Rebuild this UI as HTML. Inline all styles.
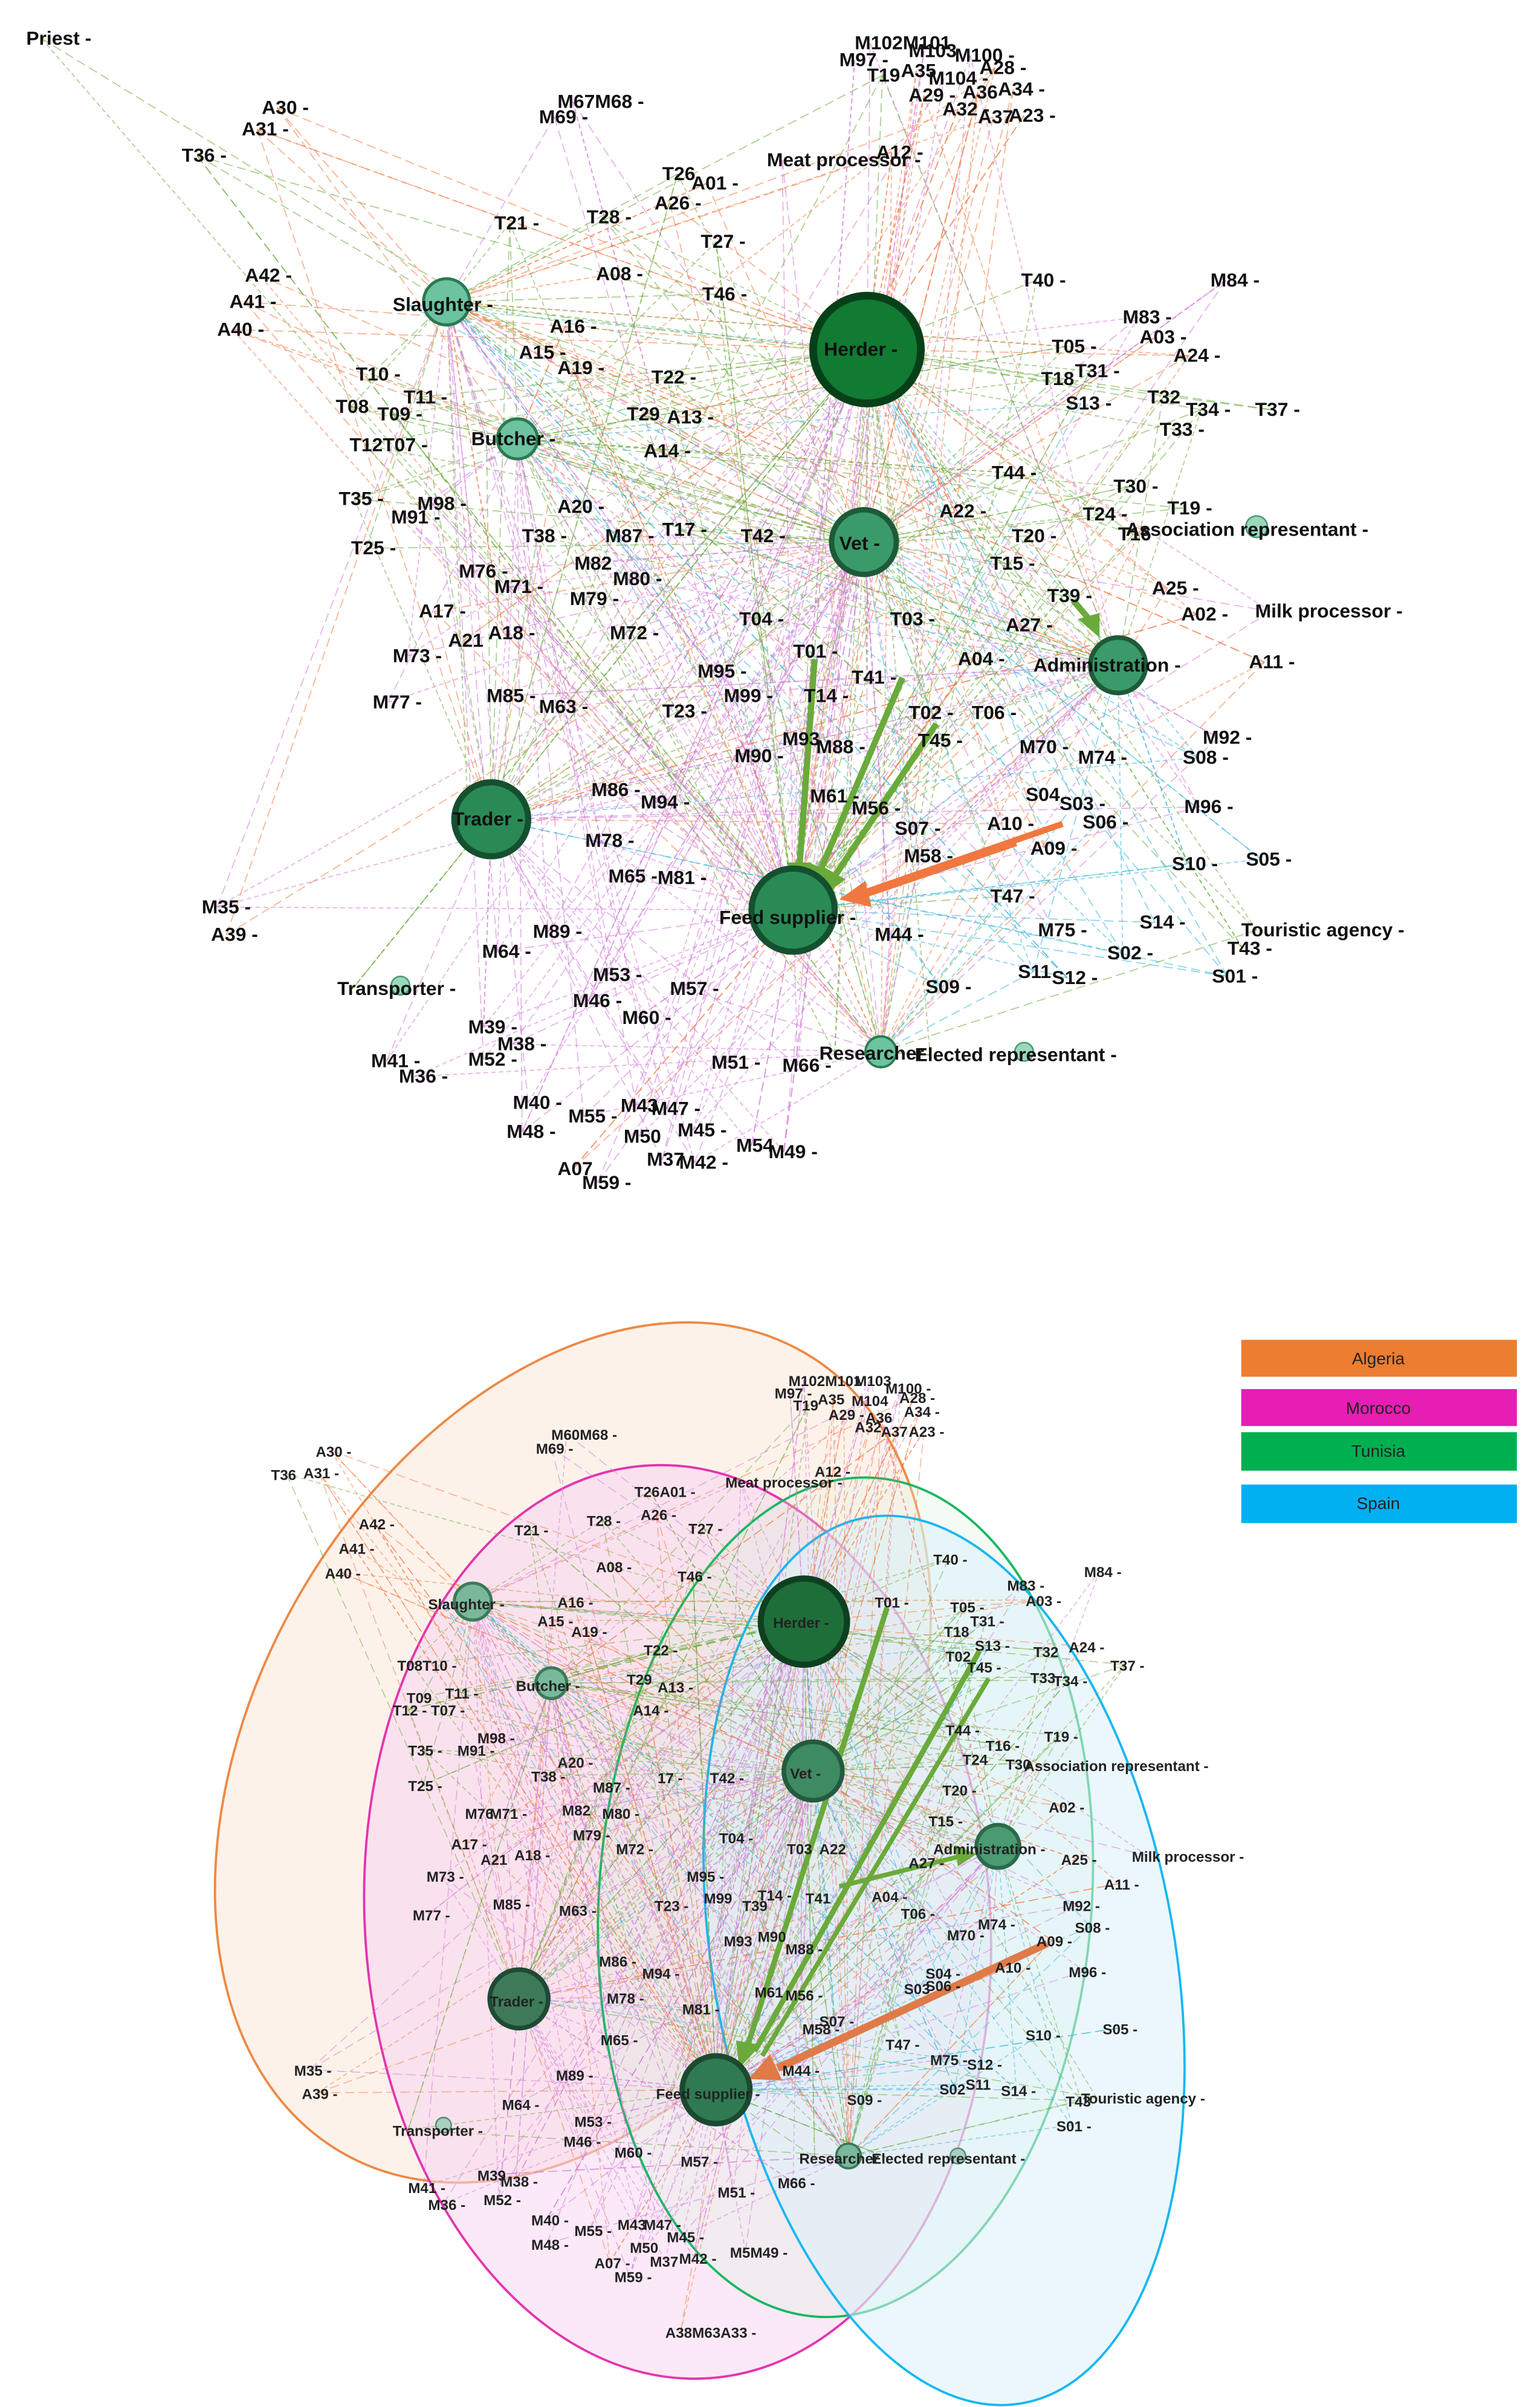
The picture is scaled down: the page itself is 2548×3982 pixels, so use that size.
<!DOCTYPE html>
<html><head><meta charset="utf-8">
<style>
html,body{margin:0;padding:0;background:#fff;}
svg{display:block;}
text{font-family:"Liberation Sans",Arial,sans-serif;font-weight:bold;fill:#111;}
.t text{font-size:12.5px;}
.b text{font-size:9.5px;fill:#222;}
.lg text{font-size:11px;font-weight:normal;fill:#222;}
</style></head>
<body>
<svg id="s" xmlns="http://www.w3.org/2000/svg" width="2548" height="3982" viewBox="0 0 1000 1563" preserveAspectRatio="none">
<rect width="1000" height="1563" fill="#fff"/>
<!-- bottom ellipses -->
<g opacity="0.9">
<ellipse cx="372" cy="1138" rx="205" ry="300" transform="rotate(30 372 1138)" fill="#fbe6d8" fill-opacity="0.6" stroke="#ed7d31" stroke-width="1.5"/>
<ellipse cx="440" cy="1248" rx="203" ry="297" transform="rotate(-4 440 1248)" fill="#f6d2ee" fill-opacity="0.55" stroke="#e020a8" stroke-width="1.5"/>
<ellipse cx="549" cy="1232" rx="160" ry="273" transform="rotate(4 549 1232)" fill="#d8f0dc" fill-opacity="0.3" stroke="#00b050" stroke-width="1.5"/>
<ellipse cx="613" cy="1273" rx="150" ry="292" transform="rotate(-10 613 1273)" fill="#d6eef8" fill-opacity="0.55" stroke="#00b0f0" stroke-width="1.5"/>
</g>
<g id="edges"></g>
<g id="arrows">
<line x1="529" y1="428" x2="519" y2="565" stroke="#6aaa3a" stroke-width="4"/>
<polygon points="511,560 527,560 519,580" fill="#6aaa3a"/>
<line x1="586" y1="440" x2="532" y2="567" stroke="#6aaa3a" stroke-width="4"/>
<polygon points="525,560 540,566 527,580" fill="#6aaa3a"/>
<line x1="608" y1="470" x2="542" y2="569" stroke="#6aaa3a" stroke-width="4"/>
<polygon points="535,563 549,571 533,583" fill="#6aaa3a"/>
<line x1="697" y1="390" x2="708" y2="403" stroke="#6aaa3a" stroke-width="4"/>
<polygon points="700,402 714,398 714,414" fill="#6aaa3a"/>
<line x1="690" y1="535" x2="560" y2="580" stroke="#f07840" stroke-width="4"/>
<line x1="660" y1="548" x2="560" y2="582" stroke="#f07840" stroke-width="3"/>
<polygon points="562,572 566,589 545,584" fill="#f07840"/>
<!-- bottom arrows -->
<line x1="576" y1="1044" x2="485" y2="1330" stroke="#6aaa3a" stroke-width="3.5"/>
<line x1="636" y1="1072" x2="490" y2="1332" stroke="#6aaa3a" stroke-width="3.5"/>
<line x1="642" y1="1090" x2="495" y2="1335" stroke="#6aaa3a" stroke-width="3"/>
<polygon points="478,1325 494,1328 480,1343" fill="#6aaa3a"/>
<line x1="545" y1="1225" x2="625" y2="1205" stroke="#6aaa3a" stroke-width="3"/>
<polygon points="620,1198 634,1204 622,1212" fill="#6aaa3a"/>
<line x1="680" y1="1262" x2="505" y2="1343" stroke="#e07a48" stroke-width="5"/>
<polygon points="500,1334 508,1351 486,1350" fill="#e07a48"/>
</g>
<g id="nodes">
<circle cx="563" cy="227" r="35" fill="#117a33" stroke="#064018" stroke-width="5"/>
<circle cx="561" cy="352" r="21" fill="#3a9a6a" stroke="#1d5a38" stroke-width="3.5"/>
<circle cx="515" cy="591" r="27" fill="#2a8a55" stroke="#145030" stroke-width="4"/>
<circle cx="319" cy="532" r="24" fill="#2a8a55" stroke="#145030" stroke-width="4"/>
<circle cx="726" cy="432" r="18" fill="#3a9a6a" stroke="#1d5a38" stroke-width="3"/>
<circle cx="290" cy="196" r="15" fill="#6cc3a0" stroke="#2a7a52" stroke-width="2"/>
<circle cx="336" cy="285" r="13" fill="#6cc3a0" stroke="#2a7a52" stroke-width="2"/>
<circle cx="816" cy="342" r="7" fill="#9ad8bc" stroke="#4a9a72" stroke-width="1"/>
<circle cx="260" cy="640" r="6" fill="#9ad8bc" stroke="#4a9a72" stroke-width="1"/>
<circle cx="572" cy="683" r="10" fill="#6cc3a0" stroke="#2a7a52" stroke-width="1.5"/>
<circle cx="665" cy="683" r="6" fill="#9ad8bc" stroke="#4a9a72" stroke-width="1"/>
<!-- bottom -->
<circle cx="522" cy="1053" r="28" fill="#1e6e3a" stroke="#0e4020" stroke-width="4"/>
<circle cx="528" cy="1150" r="19" fill="#3e8a62" stroke="#245a3e" stroke-width="3"/>
<circle cx="465" cy="1357" r="22" fill="#2f7a52" stroke="#1a4a30" stroke-width="3.5"/>
<circle cx="337" cy="1298" r="19" fill="#3e7a5a" stroke="#1e4a34" stroke-width="3"/>
<circle cx="648" cy="1199" r="14" fill="#4a9a72" stroke="#2a6a4a" stroke-width="2.5"/>
<circle cx="307" cy="1040" r="12" fill="#7ab89a" stroke="#3a7a5a" stroke-width="2"/>
<circle cx="358" cy="1093" r="10" fill="#7ab89a" stroke="#3a7a5a" stroke-width="2"/>
<circle cx="551" cy="1400" r="8" fill="#7ab89a" stroke="#3a7a5a" stroke-width="1.5"/>
<circle cx="622" cy="1400" r="5" fill="#a8cfc0" stroke="#5a8a7a" stroke-width="1"/>
<circle cx="288" cy="1380" r="5" fill="#a8cfc0" stroke="#5a8a7a" stroke-width="1"/>
</g>
<g class="t" id="tl">
<text x="17" y="29">Priest -</text><text x="170" y="74">A30 -</text><text x="157" y="88">A31 -</text><text x="118" y="105">T36 -</text>
<text x="362" y="70">M67M68 -</text><text x="350" y="80">M69 -</text>
<text x="555" y="32">M102M101</text><text x="545" y="43">M97 -</text><text x="590" y="37">M103</text><text x="620" y="40">M100 -</text>
<text x="563" y="53">T19</text><text x="585" y="50">A35</text><text x="636" y="48">A28 -</text><text x="603" y="55">M104 -</text>
<text x="648" y="62">A34 -</text><text x="590" y="66">A29 -</text><text x="625" y="64">A36</text><text x="612" y="75">A32 -</text>
<text x="635" y="80">A37</text><text x="655" y="79">A23 -</text><text x="569" y="103">A12 -</text><text x="498" y="108">Meat processor -</text>
<text x="430" y="117">T26</text><text x="449" y="123">A01 -</text><text x="425" y="136">A26 -</text><text x="321" y="149">T21 -</text>
<text x="381" y="145">T28 -</text><text x="455" y="161">T27 -</text><text x="159" y="183">A42 -</text><text x="149" y="200">A41 -</text>
<text x="141" y="218">A40 -</text><text x="255" y="202">Slaughter -</text><text x="387" y="182">A08 -</text><text x="456" y="195">T46 -</text>
<text x="663" y="186">T40 -</text><text x="786" y="186">M84 -</text><text x="729" y="210">M83 -</text><text x="740" y="223">A03 -</text>
<text x="357" y="216">A16 -</text><text x="337" y="233">A15 -</text><text x="362" y="243">A19 -</text><text x="231" y="247">T10 -</text>
<text x="423" y="249">T22 -</text><text x="683" y="229">T05 -</text><text x="676" y="250">T18</text><text x="698" y="245">T31 -</text>
<text x="762" y="235">A24 -</text><text x="692" y="266">S13 -</text><text x="745" y="262">T32</text><text x="770" y="270">T34 -</text>
<text x="815" y="270">T37 -</text><text x="753" y="283">T33 -</text><text x="262" y="262">T11 -</text><text x="218" y="268">T08</text>
<text x="245" y="273">T09 -</text><text x="407" y="273">T29</text><text x="433" y="275">A13 -</text><text x="535" y="231">Herder -</text>
<text x="306" y="289">Butcher -</text><text x="227" y="293">T12T07 -</text><text x="418" y="297">A14 -</text><text x="644" y="311">T44 -</text>
<text x="220" y="328">T35 -</text><text x="271" y="331">M98 -</text><text x="254" y="340">M91 -</text><text x="362" y="333">A20 -</text>
<text x="723" y="320">T30 -</text><text x="228" y="360">T25 -</text><text x="339" y="352">T38 -</text><text x="393" y="352">M87 -</text>
<text x="430" y="348">T17 -</text><text x="481" y="352">T42 -</text><text x="545" y="357">Vet -</text><text x="610" y="336">A22 -</text>
<text x="703" y="338">T24 -</text><text x="758" y="334">T19 -</text><text x="726" y="351">T16</text><text x="731" y="348">Association representant -</text>
<text x="657" y="352">T20 -</text><text x="643" y="370">T15 -</text><text x="298" y="375">M76 -</text><text x="373" y="370">M82</text>
<text x="321" y="385">M71 -</text><text x="398" y="380">M80 -</text><text x="370" y="393">M79 -</text><text x="272" y="401">A17 -</text>
<text x="317" y="415">A18 -</text><text x="291" y="420">A21</text><text x="396" y="415">M72 -</text><text x="480" y="406">T04 -</text>
<text x="578" y="406">T03 -</text><text x="680" y="391">T39 -</text><text x="748" y="386">A25 -</text><text x="767" y="403">A02 -</text>
<text x="815" y="401">Milk processor -</text><text x="653" y="410">A27 -</text><text x="255" y="430">M73 -</text><text x="515" y="427">T01 -</text>
<text x="453" y="440">M95 -</text><text x="553" y="444">T41 -</text><text x="622" y="432">A04 -</text><text x="671" y="436">Administration -</text>
<text x="811" y="434">A11 -</text><text x="242" y="460">M77 -</text><text x="316" y="456">M85 -</text><text x="350" y="463">M63 -</text>
<text x="470" y="456">M99 -</text><text x="522" y="456">T14 -</text><text x="430" y="466">T23 -</text><text x="590" y="467">T02 -</text>
<text x="631" y="467">T06 -</text><text x="508" y="484">M93</text><text x="530" y="489">M88 -</text><text x="596" y="485">T45 -</text>
<text x="662" y="489">M70 -</text><text x="700" y="496">M74 -</text><text x="781" y="483">M92 -</text><text x="768" y="496">S08 -</text>
<text x="477" y="495">M90 -</text><text x="384" y="517">M86 -</text><text x="416" y="525">M94 -</text><text x="526" y="521">M61 -</text>
<text x="553" y="529">M56 -</text><text x="666" y="520">S04</text><text x="688" y="526">S03 -</text><text x="769" y="528">M96 -</text>
<text x="581" y="542">S07 -</text><text x="703" y="538">S06 -</text><text x="641" y="539">A10 -</text><text x="669" y="555">A09 -</text>
<text x="294" y="536">Trader -</text><text x="380" y="550">M78 -</text><text x="587" y="560">M58 -</text><text x="761" y="565">S10 -</text>
<text x="809" y="562">S05 -</text><text x="395" y="573">M65 -</text><text x="427" y="574">M81 -</text><text x="643" y="586">T47 -</text>
<text x="131" y="593">M35 -</text><text x="137" y="611">A39 -</text><text x="467" y="600">Feed supplier -</text><text x="568" y="611">M44 -</text>
<text x="674" y="608">M75 -</text><text x="740" y="603">S14 -</text><text x="806" y="608">Touristic agency -</text><text x="797" y="620">T43 -</text>
<text x="346" y="609">M89 -</text><text x="313" y="622">M64 -</text><text x="719" y="623">S02 -</text><text x="661" y="635">S11</text>
<text x="683" y="639">S12 -</text><text x="787" y="638">S01 -</text><text x="219" y="646">Transporter -</text><text x="385" y="637">M53 -</text>
<text x="435" y="646">M57 -</text><text x="601" y="645">S09 -</text><text x="372" y="654">M46 -</text><text x="404" y="665">M60 -</text>
<text x="304" y="671">M39 -</text><text x="323" y="682">M38 -</text><text x="304" y="692">M52 -</text><text x="241" y="693">M41 -</text>
<text x="259" y="703">M36 -</text><text x="462" y="694">M51 -</text><text x="508" y="696">M66 -</text><text x="532" y="688">Researcher</text>
<text x="594" y="689">Elected representant -</text><text x="333" y="720">M40 -</text><text x="369" y="729">M55 -</text><text x="403" y="722">M43</text>
<text x="423" y="724">M47 -</text><text x="329" y="739">M48 -</text><text x="405" y="742">M50</text><text x="440" y="738">M45 -</text>
<text x="478" y="748">M54</text><text x="499" y="752">M49 -</text><text x="420" y="757">M37</text><text x="441" y="759">M42 -</text>
<text x="362" y="763">A07</text><text x="378" y="772">M59 -</text>
</g>
<g class="b" id="bl">
<text x="512" y="900">M102M101</text><text x="555" y="900">M103</text><text x="503" y="908">M97 -</text><text x="575" y="905">M100 -</text>
<text x="515" y="916">T19</text><text x="531" y="912">A35</text><text x="553" y="913">M104</text><text x="584" y="911">A28 -</text>
<text x="587" y="920">A34 -</text><text x="538" y="922">A29 -</text><text x="562" y="924">A36</text><text x="555" y="930">A32</text>
<text x="572" y="933">A37</text><text x="590" y="933">A23 -</text><text x="205" y="946">A30 -</text><text x="197" y="960">A31 -</text>
<text x="176" y="961">T36</text><text x="348" y="944">M69 -</text><text x="358" y="935">M60M68 -</text><text x="529" y="959">A12 -</text>
<text x="471" y="966">Meat processor -</text><text x="412" y="972">T26A01 -</text><text x="416" y="987">A26 -</text><text x="447" y="996">T27 -</text>
<text x="334" y="997">T21 -</text><text x="381" y="991">T28 -</text><text x="233" y="993">A42 -</text><text x="220" y="1009">A41 -</text>
<text x="211" y="1025">A40 -</text><text x="387" y="1021">A08 -</text><text x="440" y="1027">T46 -</text><text x="606" y="1016">T40 -</text>
<text x="704" y="1024">M84 -</text><text x="654" y="1033">M83 -</text><text x="666" y="1043">A03 -</text><text x="278" y="1045">Slaughter -</text>
<text x="362" y="1044">A16 -</text><text x="568" y="1044">T01 -</text><text x="617" y="1047">T05 -</text><text x="349" y="1056">A15 -</text>
<text x="371" y="1063">A19 -</text><text x="502" y="1057">Herder -</text><text x="630" y="1056">T31 -</text><text x="613" y="1063">T18</text>
<text x="633" y="1072">S13 -</text><text x="671" y="1076">T32</text><text x="694" y="1073">A24 -</text><text x="721" y="1085">T37 -</text>
<text x="614" y="1079">T02</text><text x="628" y="1086">T45 -</text><text x="669" y="1093">T33</text><text x="684" y="1095">T34 -</text>
<text x="258" y="1085">T08T10 -</text><text x="418" y="1075">T22 -</text><text x="407" y="1094">T29</text><text x="427" y="1099">A13 -</text>
<text x="335" y="1098">Butcher -</text><text x="264" y="1106">T09</text><text x="289" y="1103">T11 -</text><text x="255" y="1114">T12 - T07 -</text>
<text x="411" y="1114">A14 -</text><text x="614" y="1127">T44 -</text><text x="678" y="1131">T19 -</text><text x="265" y="1140">T35 -</text>
<text x="310" y="1132">M98 -</text><text x="297" y="1140">M91 -</text><text x="362" y="1148">A20 -</text><text x="640" y="1137">T16 -</text>
<text x="625" y="1146">T24</text><text x="653" y="1149">T30</text><text x="665" y="1150">Association representant -</text><text x="345" y="1157">T38 -</text>
<text x="385" y="1164">M87 -</text><text x="427" y="1158">17 -</text><text x="461" y="1158">T42 -</text><text x="513" y="1155">Vet -</text>
<text x="612" y="1166">T20 -</text><text x="681" y="1177">A02 -</text><text x="265" y="1163">T25 -</text><text x="302" y="1181">M76</text>
<text x="318" y="1181">M71 -</text><text x="365" y="1179">M82</text><text x="391" y="1181">M80 -</text><text x="372" y="1195">M79 -</text>
<text x="400" y="1204">M72 -</text><text x="467" y="1197">T04 -</text><text x="603" y="1186">T15 -</text><text x="293" y="1201">A17 -</text>
<text x="312" y="1211">A21</text><text x="334" y="1208">A18 -</text><text x="511" y="1204">T03</text><text x="532" y="1204">A22</text>
<text x="606" y="1204">Administration -</text><text x="689" y="1211">A25 -</text><text x="735" y="1209">Milk processor -</text><text x="590" y="1213">A27 -</text>
<text x="277" y="1222">M73 -</text><text x="446" y="1222">M95 -</text><text x="717" y="1227">A11 -</text><text x="492" y="1234">T14 -</text>
<text x="523" y="1236">T41</text><text x="457" y="1236">M99</text><text x="482" y="1241">T39</text><text x="566" y="1235">A04 -</text>
<text x="268" y="1247">M77 -</text><text x="320" y="1240">M85 -</text><text x="363" y="1244">M63 -</text><text x="425" y="1241">T23 -</text>
<text x="585" y="1246">T06 -</text><text x="615" y="1260">M70 -</text><text x="635" y="1253">M74 -</text><text x="690" y="1241">M92 -</text>
<text x="698" y="1255">S08 -</text><text x="470" y="1264">M93</text><text x="492" y="1261">M90</text><text x="510" y="1269">M88 -</text>
<text x="673" y="1264">A09 -</text><text x="389" y="1277">M86 -</text><text x="417" y="1285">M94 -</text><text x="646" y="1281">A10 -</text>
<text x="694" y="1284">M96 -</text><text x="601" y="1285">S04 -</text><text x="587" y="1295">S03</text><text x="601" y="1293">S06 -</text>
<text x="318" y="1303">Trader -</text><text x="394" y="1301">M78 -</text><text x="490" y="1297">M61</text><text x="510" y="1299">M56 -</text>
<text x="443" y="1308">M81 -</text><text x="532" y="1316">S07 -</text><text x="521" y="1321">M58 -</text><text x="666" y="1325">S10 -</text>
<text x="716" y="1321">S05 -</text><text x="390" y="1328">M65 -</text><text x="508" y="1348">M44 -</text><text x="575" y="1331">T47 -</text>
<text x="604" y="1341">M75 -</text><text x="628" y="1344">S12 -</text><text x="361" y="1351">M89 -</text><text x="191" y="1348">M35 -</text>
<text x="196" y="1363">A39 -</text><text x="426" y="1363">Feed supplier -</text><text x="610" y="1360">S02</text><text x="627" y="1357">S11</text>
<text x="650" y="1361">S14 -</text><text x="692" y="1368">T43</text><text x="702" y="1366">Touristic agency -</text><text x="550" y="1367">S09 -</text>
<text x="326" y="1370">M64 -</text><text x="686" y="1384">S01 -</text><text x="255" y="1387">Transporter -</text><text x="373" y="1381">M53 -</text>
<text x="366" y="1394">M46 -</text><text x="399" y="1401">M60 -</text><text x="442" y="1407">M57 -</text><text x="519" y="1405">Researcher</text>
<text x="566" y="1405">Elected representant -</text><text x="310" y="1416">M39</text><text x="325" y="1420">M38 -</text><text x="314" y="1432">M52 -</text>
<text x="265" y="1424">M41 -</text><text x="278" y="1435">M36 -</text><text x="466" y="1427">M51 -</text><text x="505" y="1421">M66 -</text>
<text x="345" y="1445">M40 -</text><text x="373" y="1452">M55 -</text><text x="401" y="1448">M43</text><text x="418" y="1448">M47 -</text>
<text x="345" y="1461">M48 -</text><text x="409" y="1463">M50</text><text x="433" y="1456">M45 -</text><text x="474" y="1466">M5M49 -</text>
<text x="422" y="1472">M37</text><text x="441" y="1470">M42 -</text><text x="386" y="1473">A07 -</text><text x="399" y="1482">M59 -</text>
<text x="432" y="1518">A38M63A33 -</text>
</g>
<g class="lg">
<rect x="806" y="870" width="179" height="24" fill="#ed7d31"/><text x="895" y="886" text-anchor="middle">Algeria</text>
<rect x="806" y="902" width="179" height="24" fill="#e61eb4"/><text x="895" y="918" text-anchor="middle">Morocco</text>
<rect x="806" y="930" width="179" height="25" fill="#00b050"/><text x="895" y="946" text-anchor="middle">Tunisia</text>
<rect x="806" y="964" width="179" height="25" fill="#00b0f0"/><text x="895" y="980" text-anchor="middle">Spain</text>
</g>
</svg>
<script>
(function(){
var NS="http://www.w3.org/2000/svg";
var g=document.getElementById("edges");
var seed=7;function r(){seed=(seed*16807)%2147483647;return seed/2147483647;}
var hubsT=[[563,227],[561,352],[515,591],[319,532],[726,432],[290,196],[336,285],[572,683]];
var hubsB=[[522,1053],[528,1150],[465,1357],[337,1298],[648,1199],[307,1040],[358,1093],[551,1400]];
var cols={A:"#f07840",T:"#6aaa3a",M:"#d277d8",S:"#35b5d8"};
function draw(id,hubs,w){
  var ts=document.getElementById(id).getElementsByTagName("text");
  for(var i=0;i<ts.length;i++){
    var t=ts[i],s=t.textContent,c=cols[s[0]]||"#6aaa3a";
    var x=+t.getAttribute("x"),y=+t.getAttribute("y");
    var n=2+Math.floor(r()*3);
    for(var k=0;k<n;k++){
      var h=hubs[k==0?Math.floor(r()*3):Math.floor(r()*hubs.length)];
      var l=document.createElementNS(NS,"line");
      l.setAttribute("x1",x+10);l.setAttribute("y1",y-4);
      l.setAttribute("x2",h[0]);l.setAttribute("y2",h[1]);
      l.setAttribute("stroke",c);l.setAttribute("stroke-width",w);
      l.setAttribute("stroke-opacity","0.55");
      l.setAttribute("stroke-dasharray",(r()<0.5?"3 2":"6 3"));
      g.appendChild(l);
    }
  }
}
draw("tl",hubsT,0.7);draw("bl",hubsB,0.6);
})();
</script>
</body></html>
